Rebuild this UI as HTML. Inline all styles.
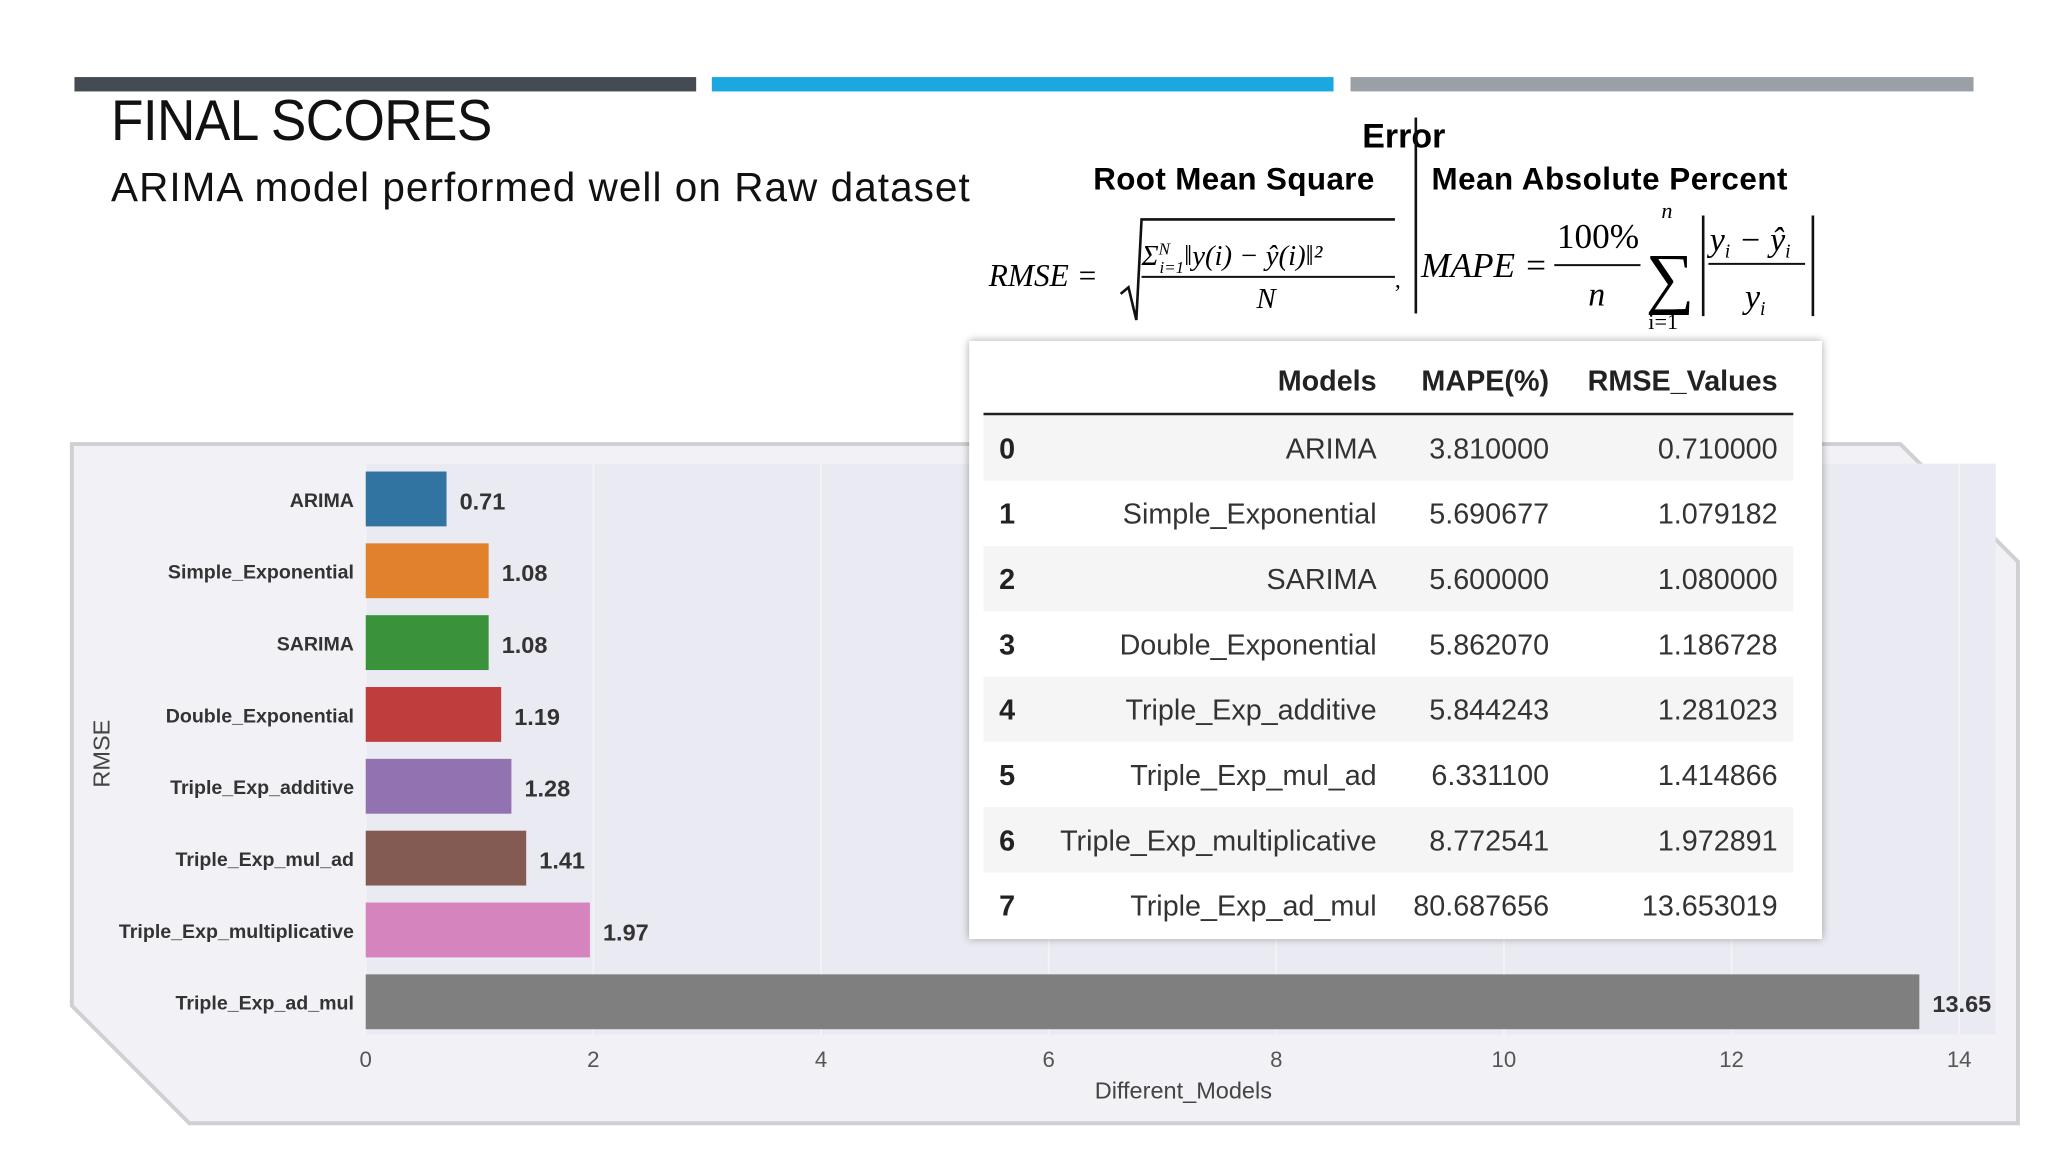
<!DOCTYPE html>
<html><head><meta charset="utf-8"><style>
html,body{margin:0;padding:0;background:#fff;overflow:hidden}
#wrap{position:absolute;left:0;top:0;width:1568px;height:882px;transform:scale(1.306122);transform-origin:0 0;font-family:"Liberation Sans",sans-serif}
.abs{position:absolute}
</style></head><body>
<div id="wrap">
<div class="abs" style="left:57px;top:59px;width:476px;height:11px;background:#454b52"></div>
<div class="abs" style="left:545px;top:59px;width:476px;height:11px;background:#1ba8e0"></div>
<div class="abs" style="left:1034px;top:59px;width:477px;height:11px;background:#9aa0a6"></div>
<div class="abs" style="left:85px;top:68px;font-size:44px;color:#111;letter-spacing:-0.5px;transform:scaleX(0.925);transform-origin:0 0">FINAL SCORES</div>
<div class="abs" style="left:85px;top:126px;font-size:31px;color:#111;letter-spacing:0.8px">ARIMA model performed well on Raw dataset</div>

<div class="abs" style="left:1043px;top:89px;font-size:26px;font-weight:bold">Error</div>
<div class="abs" style="left:837px;top:124px;font-size:24px;font-weight:bold;letter-spacing:0.3px">Root Mean Square</div>
<div class="abs" style="left:1096px;top:124px;font-size:24px;font-weight:bold;letter-spacing:0.4px">Mean Absolute Percent</div>
<div class="abs" style="left:1083px;top:90px;width:2px;height:150px;background:#111"></div>

<svg class="abs" style="left:740px;top:150px" width="680" height="110">
<text x="17" y="69" font-family="Liberation Serif" font-style="italic" font-size="24">RMSE =</text>
<path d="M118 75 L124 70 L130 95 L134 18 L328 18" stroke="#111" stroke-width="2" fill="none"/>
<text x="134" y="53" font-family="Liberation Serif" font-style="italic" font-size="22">Σ<tspan font-size="13" dy="-8">N</tspan><tspan font-size="13" dx="-8" dy="14">i=1</tspan><tspan dy="-6">‖y(i) − ŷ(i)‖²</tspan></text>
<line x1="134" y1="62" x2="328" y2="62" stroke="#111" stroke-width="1.5"/>
<text x="222" y="86" font-family="Liberation Serif" font-style="italic" font-size="22">N</text>
<text x="328" y="70" font-family="Liberation Serif" font-size="18">,</text>
<text x="348" y="62" font-family="Liberation Serif" font-style="italic" font-size="27">MAPE =</text>
<text x="452" y="40" font-family="Liberation Serif" font-size="27">100%</text>
<line x1="450" y1="53" x2="516" y2="53" stroke="#111" stroke-width="1.5"/>
<text x="476" y="84" font-family="Liberation Serif" font-style="italic" font-size="26">n</text>
<text x="532" y="17" font-family="Liberation Serif" font-style="italic" font-size="17">n</text>
<text x="520" y="80" font-family="Liberation Serif" font-size="52">∑</text>
<text x="522" y="102" font-family="Liberation Serif" font-size="17">i=1</text>
<line x1="564" y1="15" x2="564" y2="92" stroke="#111" stroke-width="2"/>
<text x="569" y="42" font-family="Liberation Serif" font-style="italic" font-size="26">y<tspan font-size="15" dy="5">i</tspan><tspan dy="-5"> − ŷ</tspan><tspan font-size="15" dy="5">i</tspan></text>
<line x1="568" y1="52" x2="642" y2="52" stroke="#111" stroke-width="1.5"/>
<text x="596" y="86" font-family="Liberation Serif" font-style="italic" font-size="26">y<tspan font-size="15" dy="5">i</tspan></text>
<line x1="648" y1="15" x2="648" y2="92" stroke="#111" stroke-width="2"/>
</svg>

<svg class="abs" style="left:0;top:0" width="1568" height="882" id="chart">
<polygon points="55,340 1455,340 1545,430 1545,860 145,860 55,770" fill="#f2f2f6" stroke="#cfcfd4" stroke-width="3"/>
<rect x="280" y="355" width="1248" height="437" fill="#eaeaf2"/>
<g id="grid"></g><g id="bars"></g><g id="labels"></g>
<text x="906" y="841" text-anchor="middle" font-size="18" fill="#444">Different_Models</text>
<text transform="translate(84,577) rotate(-90)" text-anchor="middle" font-size="18" fill="#444">RMSE</text>
</svg>

<div class="abs" style="left:742px;top:261px;width:653px;height:458px;background:#fff;box-shadow:0 0 6px rgba(0,0,0,0.35)">
<svg width="653" height="458" id="tbl"></svg>
</div>
</div>
<script>
const models=["ARIMA","Simple_Exponential","SARIMA","Double_Exponential","Triple_Exp_additive","Triple_Exp_mul_ad","Triple_Exp_multiplicative","Triple_Exp_ad_mul"];
const rmse=[0.71,1.08,1.08,1.19,1.28,1.41,1.97,13.65];
const mapeTxt=["3.810000","5.690677","5.600000","5.862070","5.844243","6.331100","8.772541","80.687656"];
const rmseTxt=["0.710000","1.079182","1.080000","1.186728","1.281023","1.414866","1.972891","13.653019"];
const xticks=[0,2,4,6,8,10,12,14];
const colors=["#3274a1","#e1812c","#3a923a","#c03d3e","#9372b2","#845b53","#d684bd","#7f7f7f"];
const NS="http://www.w3.org/2000/svg";
const x=v=>280+v*(1220/14);
const y=i=>382+i*55;
function mk(p,tag,a,t){const e=document.createElementNS(NS,tag);for(const k in a)e.setAttribute(k,a[k]);if(t!==undefined)e.textContent=t;p.appendChild(e);return e;}
const g=document.getElementById('grid'),b=document.getElementById('bars'),l=document.getElementById('labels');
xticks.forEach(t=>{
 const ln=mk(g,'line',{x1:x(t),x2:x(t),y1:355,y2:792,stroke:'#f4f4f8','stroke-width':1.2});
 
 
 const tx=mk(l,'text',{x:x(t),y:817,'text-anchor':'middle','font-size':17,fill:'#555'},t);
 
 
});
models.forEach((m,i)=>{
 const r=mk(b,'rect',{x:x(0),y:y(i)-21,width:x(rmse[i])-x(0),height:42,fill:colors[i]});
 
 
 const c=mk(l,'text',{x:271,y:y(i)+6,'text-anchor':'end','font-size':15,fill:'#333','font-weight':'bold'},m);
 
 
 const v=mk(l,'text',{x:x(rmse[i])+10,y:y(i)+8,'font-size':18,fill:'#333','font-weight':'bold'},rmse[i].toFixed(2));
 
 
});
const T=document.getElementById('tbl');
[["Models",312],["MAPE(%)",444],["RMSE_Values",619]].forEach(h=>{
 const e=mk(T,'text',{x:h[1],y:38,'text-anchor':'end','font-size':22,'font-weight':'bold',fill:'#222'},h[0]);
 
 
});
mk(T,'line',{x1:11,x2:631,y1:56,y2:56,stroke:'#222','stroke-width':2});
models.forEach((m,i)=>{
 const cy=82+i*50;
 if(i%2===0){const r=mk(T,'rect',{x:11,y:cy-25,width:620,height:50,fill:'#f5f5f5'});
 
 }
 const a=mk(T,'text',{x:23,y:cy+8,'font-size':22,'font-weight':'bold',fill:'#222'},i);
 
 
 [[m,312],[mapeTxt[i],444],[rmseTxt[i],619]].forEach(c=>{
  const e=mk(T,'text',{x:c[1],y:cy+8,'text-anchor':'end','font-size':22,fill:'#333'},c[0]);
  
  
 });
});
</script>
</body></html>
